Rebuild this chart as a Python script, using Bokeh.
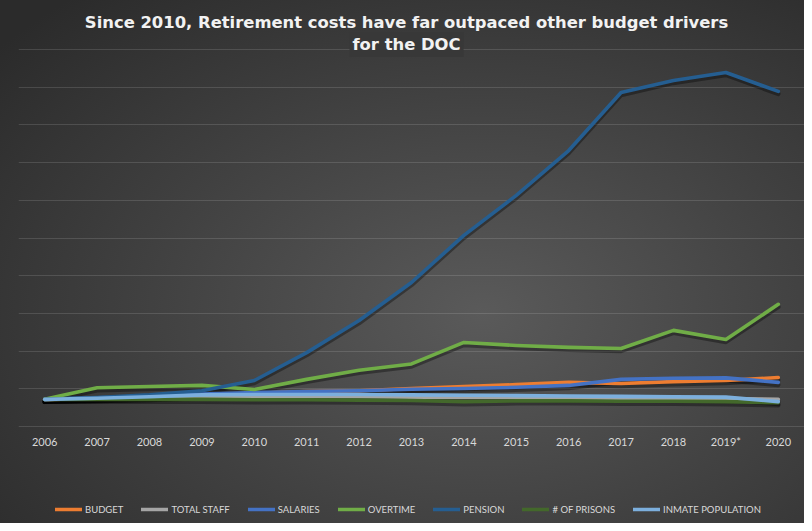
from bokeh.plotting import figure
from bokeh.models import (ColumnDataSource, FactorRange, Range1d, FixedTicker,
                          Legend, LegendItem, Label)
from bokeh.embed import file_html
from bokeh.resources import INLINE

# ---- data (index units) ----
years = ["2006", "2007", "2008", "2009", "2010", "2011", "2012", "2013",
         "2014", "2015", "2016", "2017", "2018", "2019*", "2020"]
budget = [0.72, 0.74, 0.77, 0.82, 0.88, 0.93, 0.95, 1.01, 1.06, 1.11, 1.17, 1.14, 1.19, 1.22, 1.30]
total_staff = [0.72, 0.74, 0.77, 0.80, 0.80, 0.80, 0.79, 0.78, 0.77, 0.77, 0.76, 0.75, 0.75, 0.74, 0.72]
salaries = [0.72, 0.76, 0.80, 0.86, 0.90, 0.93, 0.95, 0.99, 1.01, 1.04, 1.09, 1.25, 1.28, 1.29, 1.17]
overtime = [0.72, 1.03, 1.06, 1.09, 0.98, 1.25, 1.49, 1.66, 2.23, 2.15, 2.10, 2.07, 2.55, 2.31, 3.24]
pension = [0.72, 0.77, 0.84, 0.95, 1.22, 1.96, 2.81, 3.82, 5.07, 6.13, 7.32, 8.86, 9.18, 9.39, 8.89]
prisons = [0.72, 0.72, 0.72, 0.72, 0.71, 0.71, 0.70, 0.69, 0.66, 0.68, 0.68, 0.67, 0.67, 0.66, 0.63]
inmate = [0.72, 0.75, 0.79, 0.84, 0.85, 0.85, 0.85, 0.84, 0.83, 0.82, 0.81, 0.80, 0.79, 0.78, 0.66]

series_names = ["BUDGET", "TOTAL STAFF", "SALARIES", "OVERTIME", "PENSION",
                "# OF PRISONS", "INMATE POPULATION"]
series_keys = ["budget", "total_staff", "salaries", "overtime", "pension", "prisons", "inmate"]
series_colors = ["#ED7D31", "#A5A5A5", "#4472C4", "#70AD47", "#255E91", "#43682B", "#7CAFDD"]
grid_ticks = [0, 1, 2, 3, 4, 5, 6, 7, 8, 9, 10]
title_lines = ["Since 2010, Retirement costs have far outpaced other budget drivers",
               "for the DOC"]

source = ColumnDataSource(dict(year=years, budget=budget, total_staff=total_staff,
                               salaries=salaries, overtime=overtime, pension=pension,
                               prisons=prisons, inmate=inmate))

W, H = 804, 523
PPU = 37.7                      # pixels per grid unit
Y1 = 11.3
Y0 = Y1 - H / PPU               # frame spans the full height
p = figure(width=W, height=H, x_range=FactorRange(*years, range_padding=0),
           y_range=Range1d(Y0, Y1), output_backend="svg", toolbar_location=None,
           min_border_left=18, min_border_right=0, min_border_top=0,
           min_border_bottom=0)
p.styles = {"background": "radial-gradient(ellipse 78% 80% at 60% 60%, #5a5a5a 0%, #404040 55%, #2b2b2b 100%)"}
p.background_fill_color = None
p.border_fill_color = None
p.outline_line_color = None

# shadow offset range (a few px lower)
d = 2.5 / PPU
p.extra_y_ranges = {"shadow": Range1d(Y0 + d, Y1 + d)}

for key in series_keys:
    p.line("year", key, source=source, y_range_name="shadow", line_color="black",
           line_alpha=0.35, line_width=4.5, line_join="round", line_cap="round")

renderers = []
for key, col in zip(series_keys, series_colors):
    r = p.line("year", key, source=source, line_color=col, line_width=3.6,
               line_join="round", line_cap="round")
    renderers.append(r)

# axes / grid
p.yaxis.visible = False
p.ygrid.ticker = FixedTicker(ticks=grid_ticks)
p.ygrid.grid_line_color = "white"
p.ygrid.grid_line_alpha = 0.13
p.ygrid.grid_line_width = 1.2
p.xgrid.grid_line_color = None
xa = p.xaxis[0]
xa.fixed_location = 0
xa.axis_line_color = None
xa.major_tick_line_color = None
xa.minor_tick_line_color = None
xa.major_tick_out = 0
xa.major_tick_in = 0
xa.major_label_standoff = 8
xa.major_label_text_color = "#d9d9d9"
xa.major_label_text_font = "Lato"
xa.major_label_text_font_size = "11px"

# title
t1 = Label(x=388, y=501, x_units="screen", y_units="screen", text=title_lines[0],
           text_align="center", text_baseline="middle", text_color="#f2f2f2",
           text_font="DejaVu Sans", text_font_style="bold", text_font_size="16.4px")
t2 = Label(x=388, y=479, x_units="screen", y_units="screen", text=title_lines[1],
           text_align="center", text_baseline="middle", text_color="#f2f2f2",
           text_font="DejaVu Sans", text_font_style="bold", text_font_size="16.4px",
           background_fill_color="#383838", padding=3)
p.add_layout(t1)
p.add_layout(t2)

legend = Legend(items=[LegendItem(label=n, renderers=[r]) for n, r in zip(series_names, renderers)],
                orientation="horizontal", location=(37, 8), margin=0, padding=0,
                spacing=18, glyph_width=27, glyph_height=12, label_height=12,
                label_standoff=3, label_text_font="Lato",
                label_text_font_size="9.5px", label_text_color="#d9d9d9",
                background_fill_alpha=0, border_line_color=None)
p.add_layout(legend, "center")

open("out.html", "w").write(file_html(p, INLINE))
